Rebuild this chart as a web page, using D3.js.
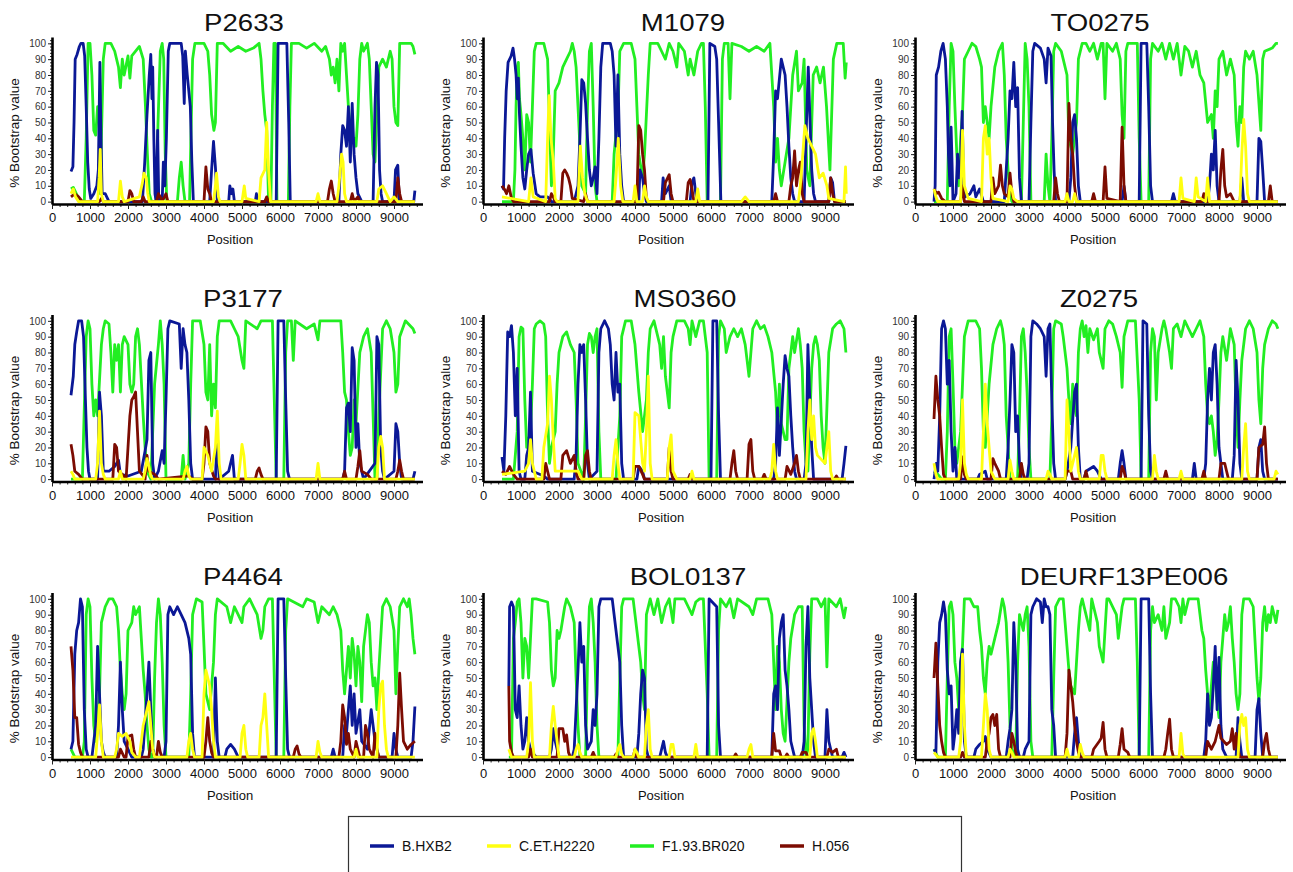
<!DOCTYPE html>
<html>
<head>
<meta charset="utf-8">
<script src="https://cdn.jsdelivr.net/npm/d3@7"></script>
<style>
  body { margin: 0; background: #fff; }
  svg text { font-family: "Liberation Sans", Arial, sans-serif; fill: #111; }
</style>
</head>
<body>
<div id="chart"></div>
<script>
// Bootscan values: [position, % bootstrap]
// B = B.HXB2, C = C.ET.H2220, F = F1.93.BR020, H = H.056

var P2633_B = [[500,19],[550,22],[580,50],[610,90],[660,93],[720,98],[760,100],[820,100],[860,92],[900,60],[940,25],[980,8],[1020,2],[1100,5],[1180,10],[1220,20],[1260,88],[1290,40],[1320,5],[1400,5],[1500,0],[2380,0],[2440,25],[2500,55],[2560,80],[2600,93],[2630,65],[2650,85],[2680,40],[2710,5],[2740,0],[2780,45],[2810,0],[2900,0],[2930,25],[2970,10],[3010,40],[3060,95],[3100,100],[3400,100],[3440,92],[3480,62],[3510,95],[3560,80],[3600,70],[3640,60],[3680,25],[3720,0],[4150,0],[4200,20],[4250,38],[4300,22],[4350,0],[4650,0],[4680,10],[4720,5],[4760,8],[4800,0],[5350,0],[5380,5],[5420,0],[5900,0],[5950,100],[6180,100],[6230,50],[6270,0],[7550,0],[7600,30],[7650,48],[7700,45],[7750,35],[7800,60],[7850,25],[7900,62],[7950,30],[8000,15],[8050,5],[8150,0],[8450,0],[8500,60],[8540,88],[8580,80],[8620,20],[8660,5],[8700,0],[9000,0],[9040,20],[9100,23],[9140,0],[9520,0],[9550,7]];
var P2633_C = [[500,5],[560,8],[620,3],[700,0],[1200,0],[1240,15],[1270,33],[1300,5],[1350,0],[1750,0],[1800,13],[1850,3],[1900,0],[2300,3],[2380,12],[2420,18],[2480,15],[2520,5],[2560,0],[4250,0],[4300,10],[4330,18],[4380,3],[4420,0],[5000,0],[5060,10],[5100,2],[5450,0],[5500,15],[5600,20],[5650,50],[5700,20],[5750,0],[6950,0],[7000,5],[7050,0],[7500,0],[7550,10],[7620,30],[7660,25],[7700,5],[7750,0],[8550,0],[8600,8],[8700,10],[8800,5],[8900,0],[9000,3],[9100,0],[9550,0]];
var P2633_F = [[500,8],[560,9],[620,6],[700,2],[780,0],[850,0],[900,40],[950,100],[1000,100],[1050,80],[1100,45],[1150,42],[1200,60],[1240,60],[1270,5],[1300,40],[1350,90],[1400,100],[1550,100],[1650,95],[1750,85],[1800,72],[1850,90],[1900,80],[2000,92],[2050,78],[2100,92],[2200,95],[2300,98],[2400,90],[2460,60],[2510,30],[2560,5],[2620,0],[2740,0],[2790,50],[2850,95],[2900,100],[2940,90],[2980,30],[3020,0],[3300,0],[3350,15],[3400,25],[3450,10],[3500,0],[3620,0],[3700,90],[3760,100],[4000,100],[4100,95],[4150,80],[4200,55],[4260,45],[4300,50],[4350,100],[4500,100],[4700,95],[4900,98],[5100,95],[5300,97],[5450,100],[5500,90],[5550,70],[5600,55],[5650,45],[5700,0],[5760,0],[5800,60],[5840,100],[5880,100],[5920,0],[6220,0],[6260,60],[6300,100],[6500,100],[6700,97],[6900,100],[7100,95],[7200,98],[7300,90],[7350,80],[7400,85],[7450,75],[7500,90],[7550,70],[7600,100],[7650,95],[7700,100],[7750,80],[7800,60],[7850,45],[7900,38],[7950,40],[8000,35],[8050,55],[8100,90],[8150,100],[8200,95],[8300,100],[8350,90],[8400,60],[8450,30],[8500,25],[8550,55],[8600,85],[8700,90],[8800,85],[8900,95],[8950,90],[9000,60],[9050,50],[9100,48],[9150,100],[9450,100],[9500,98],[9550,93]];
var P2633_H = [[500,3],[600,5],[700,3],[800,0],[1250,0],[1300,2],[1350,0],[2000,0],[2050,7],[2100,5],[2150,0],[2350,0],[2400,3],[2450,0],[2750,0],[2800,5],[2850,3],[2900,0],[3000,5],[3050,0],[4000,0],[4050,22],[4100,8],[4150,5],[4200,0],[5600,0],[5650,3],[5700,0],[7250,0],[7300,8],[7350,13],[7400,5],[7450,0],[7850,0],[7900,5],[7950,0],[8050,3],[8100,0],[9050,0],[9100,15],[9150,5],[9200,0],[9550,0]];

var M1079_B = [[500,10],[540,8],[570,40],[610,70],[660,88],[740,92],[790,97],[830,90],[870,80],[900,65],[930,78],[960,55],[1000,35],[1050,15],[1100,8],[1150,20],[1200,30],[1260,33],[1320,18],[1400,5],[1500,3],[1700,3],[1800,0],[2400,0],[2500,10],[2550,40],[2600,77],[2650,75],[2700,62],[2750,40],[2800,20],[2850,10],[2900,15],[2950,22],[3000,5],[3050,40],[3100,85],[3150,100],[3350,100],[3400,95],[3450,80],[3500,35],[3550,80],[3600,30],[3650,10],[3700,0],[4100,0],[4130,20],[4200,15],[4250,5],[4300,0],[4700,0],[4740,15],[4800,5],[4900,10],[4950,0],[5450,0],[5500,12],[5550,15],[5600,5],[5650,0],[5920,0],[5970,100],[6100,98],[6150,90],[6200,50],[6260,0],[7600,0],[7650,30],[7700,70],[7750,65],[7850,90],[7900,85],[7950,80],[8000,60],[8050,35],[8100,15],[8150,5],[8200,0],[8450,0],[8500,40],[8560,85],[8600,55],[8650,20],[8700,5],[8750,0],[9100,0],[9150,15],[9200,12],[9250,0],[9550,0]];
var M1079_C = [[500,3],[1200,0],[1260,15],[1320,3],[1650,0],[1700,40],[1740,67],[1790,40],[1850,25],[1900,2],[1950,0],[2500,0],[2560,35],[2620,15],[2680,5],[2750,0],[3450,0],[3500,15],[3560,40],[3620,10],[3680,0],[3950,0],[4000,10],[4050,0],[4200,0],[4250,10],[4300,3],[4350,0],[5600,0],[5650,8],[5700,0],[6800,0],[6900,3],[7000,0],[8300,0],[8350,10],[8400,25],[8470,48],[8550,40],[8650,35],[8750,30],[8850,15],[8950,18],[9050,10],[9100,2],[9500,0],[9540,22],[9560,5]];
var M1079_F = [[500,0],[800,0],[840,20],[870,60],[900,85],[930,88],[960,65],[1000,55],[1050,40],[1100,20],[1150,55],[1200,50],[1250,25],[1300,60],[1350,95],[1400,100],[1600,100],[1650,95],[1700,90],[1750,50],[1800,10],[1850,30],[1900,70],[2000,75],[2100,85],[2200,90],[2300,95],[2350,100],[2400,95],[2450,85],[2500,60],[2550,35],[2600,10],[2700,5],[2750,60],[2800,95],[2850,100],[2900,60],[2950,10],[3000,0],[3400,0],[3450,30],[3550,55],[3600,95],[3700,100],[3900,100],[4000,90],[4050,60],[4100,30],[4200,15],[4250,30],[4300,55],[4350,80],[4400,100],[4600,100],[4700,95],[4800,90],[4900,100],[5000,95],[5100,85],[5150,100],[5300,95],[5400,80],[5450,90],[5550,80],[5650,95],[5750,100],[5800,100],[5850,60],[5900,0],[6250,0],[6300,90],[6350,100],[6450,100],[6500,65],[6550,100],[6800,98],[7000,95],[7200,98],[7400,95],[7550,100],[7600,80],[7650,60],[7700,25],[7750,40],[7800,20],[7850,10],[7950,25],[8050,40],[8150,80],[8250,95],[8300,70],[8400,75],[8450,90],[8520,20],[8600,10],[8690,80],[8780,85],[8870,75],[8960,85],[9040,60],[9130,20],[9220,90],[9310,100],[9480,100],[9530,78],[9560,88]];
var M1079_H = [[500,10],[560,8],[620,5],[680,10],[740,3],[800,0],[1750,0],[1800,5],[1850,3],[1900,0],[2050,0],[2100,18],[2150,20],[2200,18],[2250,15],[2300,10],[2350,2],[2650,0],[2700,5],[2750,0],[4050,0],[4100,48],[4150,45],[4200,30],[4250,20],[4300,2],[4350,0],[4750,0],[4800,12],[4900,17],[4950,5],[5000,0],[5350,0],[5400,12],[5450,14],[5500,8],[5550,0],[7650,0],[7700,5],[7750,0],[8050,0],[8100,10],[8150,15],[8200,32],[8250,10],[8300,20],[8350,25],[8400,5],[8450,0],[9100,0],[9150,15],[9200,5],[9250,0],[9550,0]];

var TO0275_B = [[500,0],[530,10],[560,80],[620,85],[680,95],[740,100],[800,90],[850,60],[880,30],[920,10],[950,47],[980,20],[1000,0],[1080,5],[1120,30],[1160,15],[1200,20],[1240,57],[1280,10],[1320,3],[1450,5],[1550,10],[1600,3],[1700,8],[1800,0],[2350,0],[2400,20],[2450,40],[2500,70],[2550,65],[2600,88],[2650,60],[2700,72],[2750,15],[2800,0],[3000,0],[3050,50],[3100,95],[3150,100],[3300,97],[3400,90],[3450,75],[3500,97],[3580,92],[3620,50],[3660,20],[3700,0],[4050,0],[4100,15],[4150,50],[4200,55],[4250,40],[4300,10],[4350,0],[5450,0],[5500,10],[5550,0],[5900,0],[5950,100],[6100,100],[6150,60],[6200,10],[6250,0],[6750,0],[6800,5],[6850,0],[7700,0],[7750,10],[7800,30],[7850,20],[7900,45],[7950,10],[8000,0],[8550,0],[8600,15],[8650,0],[9000,0],[9050,40],[9100,38],[9150,20],[9200,0],[9550,0]];
var TO0275_C = [[500,8],[550,3],[600,0],[1200,0],[1250,45],[1300,10],[1400,2],[1750,0],[1800,40],[1850,48],[1900,30],[1950,40],[2000,15],[2050,2],[2450,0],[2500,10],[2550,8],[2600,2],[2700,0],[3950,0],[4000,5],[4050,0],[4150,0],[4200,5],[4250,0],[6950,0],[7000,15],[7050,2],[7350,0],[7400,15],[7450,3],[7650,0],[7700,15],[7750,0],[8550,0],[8600,30],[8650,52],[8700,35],[8750,5],[8800,0],[9550,0]];
var TO0275_F = [[500,0],[850,0],[900,60],[950,100],[1000,95],[1050,60],[1100,30],[1150,10],[1200,40],[1250,55],[1300,90],[1400,95],[1500,100],[1600,98],[1700,90],[1750,85],[1800,50],[1850,60],[1950,40],[2000,60],[2100,85],[2200,95],[2300,100],[2350,80],[2400,40],[2450,20],[2500,5],[2550,0],[2800,0],[2850,50],[2900,100],[2950,90],[3000,60],[3050,0],[3400,0],[3450,30],[3500,10],[3550,0],[3600,40],[3650,95],[3700,100],[3850,95],[3900,90],[4000,80],[4050,40],[4150,30],[4250,50],[4300,90],[4400,100],[4500,100],[4600,95],[4700,100],[4800,90],[4900,100],[4950,100],[5000,65],[5050,100],[5200,95],[5300,100],[5400,90],[5450,55],[5500,40],[5550,95],[5600,100],[5850,100],[5900,40],[5950,0],[6150,0],[6200,90],[6250,100],[6400,95],[6500,100],[6600,90],[6700,100],[6800,90],[6900,100],[7000,80],[7100,98],[7200,95],[7300,85],[7400,95],[7500,80],[7600,75],[7700,50],[7800,55],[7850,40],[7900,70],[7950,60],[8000,90],[8100,95],[8200,80],[8300,90],[8400,80],[8450,50],[8500,35],[8550,60],[8600,50],[8650,85],[8700,95],[8800,90],[8900,95],[9000,80],[9100,45],[9150,90],[9200,95],[9400,97],[9500,100],[9550,100]];
var TO0275_H = [[500,8],[560,5],[620,6],[700,2],[800,0],[1200,0],[1250,10],[1300,0],[2000,0],[2050,15],[2100,5],[2200,10],[2250,23],[2300,10],[2350,5],[2450,3],[2500,18],[2550,5],[2600,0],[3650,0],[3700,15],[3750,5],[3800,0],[4000,0],[4050,62],[4100,40],[4150,30],[4200,10],[4250,0],[4650,0],[4700,5],[4750,0],[4950,0],[5000,22],[5050,2],[5400,0],[5450,47],[5500,10],[5550,0],[7550,0],[7600,5],[7650,0],[8000,0],[8050,20],[8100,33],[8150,10],[8200,3],[8300,5],[8400,0],[9300,0],[9350,10],[9400,0],[9550,0]];

var P3177_B = [[500,53],[560,65],[600,85],[650,93],[700,100],[780,100],[830,90],[880,50],[920,20],[960,5],[1000,0],[1200,0],[1250,55],[1300,40],[1350,5],[1500,5],[1650,8],[1750,12],[1800,3],[2000,2],[2350,5],[2450,18],[2500,25],[2550,75],[2600,80],[2650,10],[2700,0],[2800,5],[2900,18],[2950,10],[3000,50],[3050,95],[3100,100],[3350,98],[3400,70],[3450,95],[3500,85],[3550,80],[3600,50],[3650,10],[3700,0],[4300,0],[4350,30],[4400,0],[4650,5],[4750,15],[4800,0],[5900,0],[5950,100],[6100,100],[6150,50],[6200,5],[6250,0],[7650,0],[7700,5],[7750,45],[7800,48],[7850,30],[7900,83],[7950,75],[8000,20],[8050,35],[8100,10],[8200,0],[8500,10],[8550,90],[8600,85],[8650,20],[8700,5],[8750,0],[9000,5],[9050,35],[9100,30],[9150,10],[9200,0],[9500,0],[9550,5]];
var P3177_C = [[500,5],[550,3],[600,0],[1150,0],[1200,10],[1250,43],[1300,10],[1350,3],[1400,0],[1750,0],[1800,5],[1850,0],[2400,0],[2450,5],[2500,13],[2550,8],[2600,2],[2650,0],[3450,0],[3500,5],[3550,8],[3600,2],[3650,0],[3950,0],[4000,20],[4100,15],[4200,5],[4300,20],[4350,43],[4400,10],[4450,0],[4900,0],[4950,10],[5000,22],[5050,15],[5100,0],[6950,0],[7000,10],[7050,0],[8550,0],[8600,20],[8650,27],[8700,20],[8750,0],[9550,0]];
var P3177_F = [[500,0],[800,0],[900,90],[950,100],[1000,95],[1050,60],[1100,40],[1150,50],[1200,40],[1300,85],[1350,95],[1400,100],[1500,98],[1550,80],[1600,55],[1650,85],[1700,75],[1750,85],[1800,55],[1850,85],[1900,90],[2000,85],[2050,60],[2100,55],[2150,60],[2200,90],[2250,95],[2300,85],[2400,40],[2450,20],[2500,5],[2600,0],[2700,60],[2800,85],[2850,100],[2900,85],[2950,60],[3000,0],[3400,0],[3450,15],[3500,0],[3600,10],[3650,60],[3700,100],[3900,100],[4000,85],[4050,55],[4100,50],[4150,85],[4200,40],[4250,60],[4300,45],[4350,90],[4400,100],[4700,100],[4800,95],[4900,90],[5000,75],[5050,70],[5100,100],[5400,95],[5500,100],[5800,100],[5850,50],[5900,0],[6100,0],[6150,80],[6200,100],[6300,100],[6350,75],[6400,100],[6700,95],[6900,98],[7000,88],[7050,100],[7600,100],[7650,80],[7700,55],[7750,50],[7800,30],[7850,15],[7900,20],[7950,50],[8000,35],[8100,80],[8200,90],[8300,95],[8400,80],[8450,40],[8500,0],[8550,0],[8600,40],[8700,95],[8800,100],[8900,95],[9000,80],[9050,55],[9100,60],[9150,90],[9300,100],[9500,95],[9550,92]];
var P3177_H = [[500,22],[550,15],[600,5],[700,3],[800,0],[1600,0],[1650,22],[1700,20],[1750,5],[1850,3],[1950,0],[2000,20],[2050,40],[2100,50],[2150,52],[2200,55],[2250,30],[2300,5],[2400,2],[2450,0],[2500,15],[2550,5],[2700,3],[2800,0],[3600,2],[3700,0],[3950,0],[4000,10],[4050,33],[4100,30],[4150,10],[4250,2],[4300,0],[5350,0],[5400,5],[5450,7],[5500,3],[5550,0],[7650,0],[7700,5],[7750,0],[8000,0],[8050,8],[8100,18],[8150,5],[8300,3],[8400,0],[9050,0],[9100,5],[9150,12],[9200,5],[9250,0],[9550,0]];

var MS0360_B = [[500,14],[550,5],[600,40],[650,93],[700,90],[750,97],[800,80],[850,40],[900,70],[950,5],[1000,0],[1100,0],[1150,15],[1200,20],[1250,55],[1300,5],[1600,2],[1700,0],[2400,0],[2450,15],[2500,60],[2550,85],[2600,80],[2650,85],[2700,50],[2750,10],[2800,0],[3000,5],[3050,80],[3100,95],[3200,100],[3300,95],[3350,85],[3400,60],[3450,50],[3500,80],[3550,55],[3600,60],[3650,10],[3700,0],[4050,0],[4100,8],[4200,5],[4250,0],[6000,0],[6050,100],[6150,100],[6200,40],[6250,0],[7650,0],[7700,10],[7750,45],[7800,15],[7900,60],[7950,78],[8000,70],[8050,65],[8100,40],[8150,20],[8200,5],[8250,0],[8450,0],[8500,10],[8550,85],[8600,50],[8650,20],[8700,0],[9450,0],[9500,10],[9550,21]];
var MS0360_C = [[500,3],[1100,5],[1200,10],[1250,25],[1300,10],[1400,0],[1550,0],[1600,20],[1700,35],[1750,65],[1800,50],[1850,25],[1900,5],[2000,5],[2500,5],[2600,0],[3400,0],[3450,15],[3500,25],[3550,10],[3600,0],[3950,0],[4000,42],[4100,40],[4200,10],[4250,5],[4300,30],[4350,65],[4400,10],[4450,0],[4850,0],[4900,20],[4950,28],[5000,5],[5100,0],[5450,0],[5500,5],[5550,0],[7550,0],[7600,5],[7650,22],[7700,5],[7750,0],[8500,0],[8550,30],[8600,50],[8650,25],[8700,40],[8750,20],[8800,15],[9000,10],[9100,30],[9150,5],[9200,0],[9550,0]];
var MS0360_F = [[500,0],[800,0],[900,30],[950,90],[1000,96],[1050,95],[1100,50],[1150,20],[1250,30],[1300,60],[1350,95],[1400,98],[1500,100],[1600,98],[1650,90],[1700,40],[1750,10],[1800,20],[1900,30],[1950,60],[2000,80],[2100,90],[2200,93],[2300,85],[2400,80],[2450,50],[2500,10],[2650,0],[2700,40],[2750,85],[2800,92],[2850,90],[2900,80],[2950,90],[3000,95],[3050,30],[3100,0],[3500,0],[3600,40],[3650,90],[3750,100],[3900,100],[4000,85],[4050,70],[4100,55],[4200,30],[4300,50],[4350,80],[4400,95],[4500,100],[4600,90],[4650,85],[4700,70],[4750,90],[4800,65],[4850,55],[4900,45],[4950,80],[5000,90],[5100,100],[5300,100],[5400,95],[5450,85],[5500,100],[5600,90],[5700,100],[5800,100],[5900,80],[5950,0],[6150,0],[6200,90],[6250,100],[6350,95],[6400,80],[6500,90],[6600,95],[6700,90],[6800,95],[6900,85],[7000,65],[7050,80],[7100,95],[7200,100],[7300,95],[7400,97],[7500,90],[7600,80],[7700,55],[7750,30],[7800,60],[7850,35],[7900,30],[7950,25],[8000,25],[8050,70],[8100,80],[8150,90],[8200,80],[8300,95],[8350,85],[8400,70],[8450,30],[8500,10],[8550,5],[8650,70],[8700,85],[8750,90],[8800,85],[8850,75],[8900,40],[8950,20],[9000,10],[9100,80],[9200,95],[9300,98],[9400,100],[9500,95],[9550,80]];
var MS0360_H = [[500,5],[600,3],[700,8],[800,3],[900,0],[1600,0],[1650,10],[1700,5],[1750,0],[2050,0],[2100,15],[2200,18],[2300,10],[2400,15],[2450,5],[2500,0],[2650,0],[2700,15],[2750,18],[2800,5],[2850,0],[3950,0],[4000,8],[4100,8],[4200,3],[4250,0],[4850,0],[4900,20],[4950,5],[5000,0],[5400,0],[5450,3],[5500,0],[6500,0],[6550,10],[6600,18],[6650,5],[6700,0],[6950,0],[7000,22],[7050,25],[7100,5],[7150,0],[7350,0],[7400,3],[7450,0],[7950,0],[8000,8],[8100,3],[8200,10],[8250,15],[8300,5],[8350,0],[9250,0],[9300,2],[9350,0],[9550,0]];

var Z0275_B = [[500,0],[560,10],[600,5],[650,40],[700,95],[750,100],[800,95],[850,60],[900,75],[950,30],[1000,5],[1050,20],[1100,0],[1650,0],[1700,3],[1850,5],[1900,0],[2400,0],[2450,20],[2500,50],[2550,85],[2600,80],[2650,30],[2700,40],[2750,10],[2800,0],[2950,0],[3000,10],[3050,90],[3100,100],[3200,98],[3300,95],[3400,90],[3450,65],[3500,95],[3550,98],[3600,50],[3650,10],[3700,0],[3950,0],[4000,5],[4100,20],[4200,55],[4250,60],[4300,20],[4350,0],[4450,0],[4500,5],[4700,8],[4800,5],[4900,0],[5350,0],[5400,10],[5450,18],[5500,10],[5550,0],[5950,0],[6000,100],[6100,98],[6150,40],[6200,5],[6250,0],[7300,0],[7350,10],[7400,0],[7600,0],[7650,10],[7700,50],[7750,70],[7800,50],[7850,80],[7900,85],[7950,60],[8000,20],[8050,10],[8100,0],[8350,0],[8400,15],[8450,75],[8500,50],[8550,10],[8600,0],[9000,0],[9050,20],[9100,25],[9150,5],[9200,0],[9550,0]];
var Z0275_C = [[500,10],[550,3],[600,0],[1150,0],[1200,10],[1250,50],[1300,10],[1350,3],[1400,0],[1750,0],[1800,30],[1850,60],[1900,35],[1950,20],[2000,5],[2100,0],[2450,0],[2500,12],[2550,5],[2600,0],[3450,0],[3500,5],[3550,3],[3600,0],[3950,0],[4000,50],[4050,30],[4100,5],[4200,15],[4250,20],[4300,5],[4350,0],[4850,0],[4900,15],[4950,15],[5000,5],[5050,0],[6250,0],[6300,15],[6350,5],[6400,0],[6950,0],[7000,5],[7050,0],[8600,0],[8650,20],[8700,35],[8750,5],[8800,0],[9450,0],[9500,5],[9550,3]];
var Z0275_F = [[500,5],[600,3],[700,0],[800,0],[850,30],[900,90],[950,95],[1000,60],[1050,20],[1100,10],[1200,30],[1250,60],[1300,90],[1400,100],[1600,100],[1700,95],[1750,70],[1800,30],[1850,20],[1950,60],[2050,85],[2150,95],[2250,100],[2300,95],[2350,85],[2400,40],[2450,20],[2500,0],[2700,0],[2750,40],[2800,90],[2850,95],[2900,80],[2950,55],[3000,20],[3050,0],[3550,0],[3600,40],[3650,95],[3700,100],[3850,98],[3900,90],[4000,70],[4050,50],[4100,35],[4150,60],[4200,45],[4250,40],[4300,80],[4350,95],[4400,100],[4450,90],[4500,97],[4550,80],[4600,95],[4700,88],[4800,95],[4850,80],[4900,75],[4950,70],[5000,95],[5100,100],[5200,98],[5300,90],[5400,80],[5450,58],[5500,90],[5600,100],[5800,100],[5900,50],[5950,0],[6150,0],[6200,80],[6250,95],[6300,90],[6350,50],[6400,80],[6500,95],[6550,100],[6600,95],[6700,80],[6750,70],[6800,95],[6900,98],[7000,90],[7050,95],[7100,100],[7200,95],[7300,90],[7400,95],[7500,100],[7600,90],[7650,60],[7700,40],[7750,35],[7800,40],[7850,30],[7900,15],[7950,25],[8000,50],[8050,80],[8100,90],[8200,75],[8300,95],[8400,85],[8450,45],[8500,20],[8550,50],[8600,75],[8700,95],[8800,100],[8900,95],[9000,80],[9050,50],[9100,35],[9150,70],[9200,85],[9300,95],[9400,100],[9500,98],[9550,95]];
var Z0275_H = [[500,38],[550,65],[600,50],[650,40],[700,20],[750,3],[800,0],[1200,0],[1250,14],[1300,3],[1350,0],[2000,0],[2050,13],[2100,10],[2200,5],[2250,0],[2750,0],[2800,10],[2850,3],[2900,0],[3950,0],[4000,5],[4100,5],[4150,0],[4450,0],[4500,5],[4550,0],[5400,0],[5450,8],[5500,5],[5550,0],[6550,0],[6600,5],[6650,0],[7550,0],[7600,5],[7650,0],[8000,0],[8050,10],[8150,10],[8200,5],[8250,0],[9000,0],[9050,20],[9150,22],[9200,33],[9250,10],[9300,0],[9550,0]];

var P4464_B = [[500,5],[550,10],[600,65],[650,80],[700,85],[750,100],[800,95],[850,30],[900,5],[950,0],[1050,0],[1100,10],[1150,20],[1200,70],[1250,40],[1300,10],[1350,3],[1400,0],[1700,0],[1750,20],[1800,60],[1850,30],[1900,10],[2000,5],[2100,0],[2350,0],[2400,5],[2500,40],[2550,60],[2600,30],[2650,5],[2700,0],[2950,0],[3000,10],[3050,90],[3100,95],[3200,90],[3300,95],[3400,90],[3500,85],[3600,75],[3650,65],[3700,15],[3750,0],[4250,0],[4300,50],[4350,10],[4400,0],[4550,0],[4600,5],[4700,8],[4800,5],[4900,0],[5900,0],[5950,100],[6100,100],[6150,50],[6200,5],[6250,0],[7350,0],[7400,5],[7450,0],[7650,0],[7700,20],[7750,15],[7850,45],[7900,20],[7950,40],[8000,15],[8100,30],[8150,10],[8300,5],[8400,30],[8450,20],[8500,10],[8600,0],[8950,0],[9000,15],[9050,5],[9100,0],[9450,0],[9500,10],[9550,32]];
var P4464_C = [[500,0],[1150,0],[1200,15],[1250,33],[1300,10],[1350,0],[1650,0],[1700,5],[1750,15],[1850,13],[1950,15],[2050,10],[2100,3],[2200,0],[2300,0],[2350,10],[2400,20],[2450,25],[2550,35],[2600,20],[2650,5],[2700,0],[3550,0],[3600,10],[3650,15],[3700,5],[3750,0],[3950,0],[4000,40],[4050,55],[4100,50],[4150,45],[4200,30],[4250,10],[4300,0],[4950,0],[5000,15],[5050,20],[5100,5],[5150,0],[5450,0],[5500,20],[5550,25],[5600,40],[5650,20],[5700,0],[6950,0],[7000,10],[7050,3],[7100,0],[7950,0],[8000,5],[8050,0],[8550,0],[8600,30],[8650,45],[8700,48],[8750,20],[8800,5],[8850,0],[9550,0]];
var P4464_F = [[500,5],[600,0],[800,0],[850,10],[900,90],[950,100],[1000,95],[1050,50],[1100,20],[1150,10],[1250,40],[1300,85],[1400,95],[1500,100],[1600,100],[1700,95],[1750,80],[1800,55],[1850,40],[1900,30],[1950,40],[2000,80],[2100,85],[2150,95],[2200,90],[2300,95],[2350,75],[2400,55],[2450,40],[2500,20],[2550,5],[2600,0],[2650,0],[2700,50],[2750,85],[2800,100],[2850,90],[2900,60],[2950,20],[3000,0],[3600,0],[3650,40],[3700,90],[3800,100],[3950,98],[4000,70],[4050,40],[4150,30],[4250,60],[4300,90],[4350,100],[4600,95],[4700,85],[4800,95],[4900,90],[5000,85],[5050,95],[5200,100],[5400,90],[5500,75],[5550,80],[5600,95],[5700,100],[5800,100],[5850,50],[5900,0],[6100,0],[6150,80],[6200,100],[6600,95],[6700,100],[6900,98],[7000,85],[7100,95],[7300,90],[7400,95],[7500,90],[7600,80],[7650,55],[7700,40],[7750,55],[7800,70],[7850,50],[7900,75],[7950,65],[8000,45],[8050,70],[8100,60],[8150,35],[8200,70],[8300,90],[8350,85],[8400,60],[8450,45],[8500,50],[8550,30],[8600,55],[8700,95],[8800,100],[8900,95],[9000,80],[9050,40],[9100,70],[9150,95],[9250,100],[9350,95],[9400,100],[9450,90],[9500,75],[9550,65]];
var P4464_H = [[500,70],[550,55],[600,25],[650,25],[700,8],[750,3],[800,0],[1750,0],[1800,5],[1900,0],[1950,0],[2000,13],[2100,14],[2150,5],[2200,0],[2550,0],[2600,10],[2650,5],[2700,0],[2750,0],[2800,10],[2850,3],[2900,0],[4000,0],[4050,10],[4100,25],[4150,10],[4200,3],[4250,0],[6350,0],[6400,5],[6450,7],[6500,2],[6550,0],[7550,0],[7600,10],[7650,33],[7700,25],[7750,8],[7800,15],[7850,5],[7950,0],[8000,10],[8050,5],[8100,0],[8200,0],[8250,20],[8300,15],[8350,5],[8450,0],[8500,15],[8550,5],[8600,0],[9050,0],[9100,20],[9150,53],[9200,30],[9250,10],[9350,5],[9450,8],[9550,10]];

var BOL0137_B = [[680,45],[700,95],[750,98],[800,95],[850,30],[900,25],[950,45],[1000,20],[1050,5],[1100,10],[1150,25],[1200,10],[1250,5],[1300,3],[1400,0],[1750,0],[1800,5],[1850,18],[1900,10],[2000,0],[2350,0],[2400,5],[2450,30],[2500,55],[2550,85],[2600,60],[2650,70],[2700,20],[2750,5],[2850,10],[2900,30],[2950,20],[3000,40],[3050,95],[3100,100],[3400,100],[3450,90],[3500,80],[3550,70],[3600,60],[3650,20],[3700,0],[4050,0],[4100,15],[4150,40],[4200,55],[4250,50],[4300,5],[4350,0],[4650,0],[4700,5],[4750,10],[4800,3],[4850,0],[5900,0],[5950,100],[6150,95],[6200,20],[6250,0],[7600,0],[7650,40],[7700,45],[7750,30],[7800,75],[7850,85],[7900,90],[7950,55],[8000,45],[8050,30],[8100,10],[8200,0],[8400,0],[8450,10],[8500,70],[8550,95],[8600,50],[8650,30],[8700,10],[8750,0],[9000,0],[9050,30],[9100,10],[9150,5],[9200,0],[9450,0],[9500,3],[9550,0]];
var BOL0137_C = [[680,5],[750,0],[1150,0],[1200,10],[1250,47],[1300,10],[1350,0],[1750,0],[1800,20],[1850,32],[1900,20],[1950,10],[2000,0],[2400,0],[2450,5],[2500,8],[2550,3],[2600,0],[3500,0],[3550,5],[3600,8],[3650,2],[3700,0],[3950,0],[4000,5],[4050,3],[4100,0],[4250,0],[4300,20],[4350,30],[4400,5],[4450,0],[4900,0],[4950,8],[5000,8],[5050,0],[5550,0],[5600,8],[5650,0],[6950,0],[7000,5],[7050,8],[7100,0],[8600,0],[8650,15],[8700,18],[8750,10],[8800,0],[9550,0]];
var BOL0137_F = [[680,0],[750,0],[800,75],[850,85],[900,98],[950,100],[1000,85],[1050,50],[1100,75],[1150,70],[1200,50],[1250,75],[1300,100],[1400,100],[1700,98],[1750,85],[1800,55],[1850,45],[1900,50],[1950,80],[2000,75],[2050,80],[2150,95],[2200,100],[2300,95],[2350,90],[2400,85],[2450,50],[2500,20],[2550,0],[2700,0],[2750,60],[2800,95],[2850,100],[2900,85],[2950,60],[3000,20],[3050,0],[3550,0],[3600,50],[3650,95],[3700,100],[3950,100],[4000,90],[4050,80],[4150,60],[4200,40],[4250,30],[4300,90],[4400,100],[4450,95],[4500,90],[4600,100],[4700,85],[4800,95],[4900,100],[5000,85],[5050,100],[5300,100],[5400,95],[5500,90],[5600,98],[5700,100],[5800,100],[5900,40],[5950,0],[6150,0],[6200,80],[6250,100],[6400,95],[6500,100],[6600,88],[6700,100],[7000,95],[7100,90],[7200,100],[7500,100],[7600,90],[7650,60],[7700,30],[7750,70],[7800,60],[7850,30],[7900,15],[7950,10],[8000,35],[8050,60],[8100,75],[8200,90],[8300,95],[8400,95],[8450,20],[8500,0],[8550,5],[8600,65],[8650,100],[8800,100],[8900,95],[9000,100],[9050,57],[9100,100],[9300,95],[9400,100],[9500,88],[9550,95]];
var BOL0137_H = [[680,45],[700,10],[750,3],[800,0],[1200,0],[1250,5],[1300,0],[1950,0],[2000,18],[2100,18],[2150,10],[2200,14],[2250,3],[2300,0],[2850,0],[2900,3],[2950,0],[3450,0],[3500,2],[3550,0],[3950,0],[4000,5],[4050,0],[6600,0],[6650,2],[6700,0],[7600,0],[7650,15],[7700,4],[7800,4],[7850,0],[7950,0],[8000,2],[8050,0],[8350,0],[8400,3],[8500,3],[8550,0],[9050,0],[9100,5],[9200,3],[9300,5],[9350,0],[9550,0]];

var DEURF13PE006_B = [[500,5],[550,3],[600,60],[650,85],[700,90],[750,98],[800,90],[850,55],[900,40],[950,45],[1000,5],[1050,15],[1100,30],[1150,15],[1200,60],[1250,68],[1300,10],[1350,0],[1550,0],[1600,5],[1700,8],[1800,10],[1850,13],[1900,5],[2000,0],[2400,0],[2450,10],[2500,18],[2550,30],[2600,85],[2650,60],[2700,5],[2750,0],[2850,0],[2900,5],[3000,10],[3050,90],[3100,95],[3200,100],[3300,98],[3350,85],[3400,100],[3450,95],[3500,95],[3550,90],[3600,30],[3650,20],[3700,0],[4150,0],[4200,15],[4250,25],[4300,10],[4350,0],[5900,0],[5950,100],[6150,100],[6200,40],[6250,0],[7600,0],[7650,10],[7700,40],[7750,20],[7800,25],[7850,45],[7900,70],[7950,30],[8000,63],[8050,20],[8100,5],[8200,0],[8450,0],[8500,25],[8550,10],[8600,0],[8950,0],[9000,30],[9050,37],[9100,15],[9150,0],[9550,0]];
var DEURF13PE006_C = [[500,3],[600,0],[1150,0],[1200,10],[1250,65],[1300,20],[1350,0],[1750,0],[1800,20],[1850,40],[1900,30],[1950,5],[2000,0],[2450,0],[2500,5],[2550,3],[2600,0],[3950,0],[4000,5],[4050,0],[4300,0],[4350,8],[4400,3],[4450,0],[6950,0],[7000,15],[7050,2],[7100,0],[8500,0],[8550,20],[8600,27],[8650,20],[8700,25],[8750,5],[8800,0],[9550,0]];
var DEURF13PE006_F = [[500,5],[600,0],[800,0],[850,50],[900,95],[950,98],[1000,90],[1050,60],[1100,50],[1150,30],[1200,60],[1250,70],[1300,100],[1450,100],[1550,95],[1650,95],[1700,80],[1750,70],[1800,50],[1850,40],[1900,60],[1950,70],[2000,65],[2100,75],[2200,85],[2300,100],[2350,95],[2400,85],[2450,60],[2500,20],[2550,5],[2650,0],[2700,60],[2750,90],[2800,85],[2850,80],[2900,90],[2950,95],[3000,70],[3050,10],[3100,0],[3600,0],[3650,50],[3700,95],[3800,100],[3900,100],[3950,85],[4000,70],[4050,55],[4100,45],[4200,40],[4250,60],[4300,80],[4350,95],[4400,100],[4500,90],[4600,80],[4650,100],[4700,95],[4800,85],[4850,70],[4900,65],[4950,60],[5000,80],[5050,100],[5100,100],[5300,90],[5350,75],[5400,85],[5450,95],[5500,100],[5800,100],[5850,60],[5900,0],[6150,0],[6200,80],[6250,95],[6300,85],[6400,90],[6500,80],[6550,95],[6600,75],[6650,80],[6700,85],[6750,100],[6850,100],[6950,95],[7000,85],[7050,100],[7100,90],[7200,100],[7450,100],[7500,90],[7550,80],[7600,75],[7650,55],[7700,40],[7750,30],[7800,45],[7850,60],[7900,50],[7950,35],[8000,25],[8050,60],[8100,75],[8150,90],[8200,80],[8250,85],[8300,95],[8350,75],[8400,60],[8450,40],[8500,30],[8550,40],[8600,90],[8650,100],[8800,100],[8900,95],[9000,50],[9050,35],[9100,50],[9150,85],[9200,95],[9250,80],[9300,90],[9350,85],[9400,95],[9500,85],[9550,93]];
var DEURF13PE006_H = [[500,50],[550,72],[600,45],[650,20],[700,10],[750,3],[800,0],[1200,0],[1250,3],[1300,0],[1850,0],[1900,10],[1950,15],[2000,25],[2050,27],[2100,20],[2150,27],[2200,5],[2250,0],[2500,0],[2550,15],[2600,10],[2650,3],[2700,0],[3950,0],[4000,15],[4050,55],[4100,45],[4150,35],[4200,20],[4250,10],[4300,3],[4350,0],[4650,0],[4700,5],[4850,10],[4900,12],[4950,22],[5000,5],[5050,0],[5350,0],[5400,8],[5450,18],[5500,5],[5600,3],[5650,0],[6550,0],[6600,5],[6650,15],[6700,24],[6750,5],[6800,0],[7650,0],[7700,10],[7800,5],[7900,10],[8000,20],[8050,12],[8200,8],[8300,10],[8350,18],[8400,5],[8450,15],[8500,5],[8550,0],[9150,0],[9200,10],[9250,15],[9300,5],[9350,0],[9550,0]];

var seriesNames = ["B.HXB2", "C.ET.H2220", "F1.93.BR020", "H.056"];
var seriesColors = ["#0b1896", "#ffff10", "#22ee22", "#7c0c02"];
var xTicks = d3.range(0, 10000, 1000);
var yTicks = d3.range(0, 101, 10);

var panels = [
  { name: "P2633", series: [P2633_B, P2633_C, P2633_F, P2633_H], titleX: 244 },
  { name: "M1079", series: [M1079_B, M1079_C, M1079_F, M1079_H], titleX: 683 },
  { name: "TO0275", series: [TO0275_B, TO0275_C, TO0275_F, TO0275_H], titleX: 1100 },
  { name: "P3177", series: [P3177_B, P3177_C, P3177_F, P3177_H], titleX: 243 },
  { name: "MS0360", series: [MS0360_B, MS0360_C, MS0360_F, MS0360_H], titleX: 685 },
  { name: "Z0275", series: [Z0275_B, Z0275_C, Z0275_F, Z0275_H], titleX: 1099 },
  { name: "P4464", series: [P4464_B, P4464_C, P4464_F, P4464_H], titleX: 243 },
  { name: "BOL0137", series: [BOL0137_B, BOL0137_C, BOL0137_F, BOL0137_H], titleX: 688 },
  { name: "DEURF13PE006", series: [DEURF13PE006_B, DEURF13PE006_C, DEURF13PE006_F, DEURF13PE006_H], titleX: 1124 }
];

// layout
var svgWidth = 1293;
var svgHeight = 872;
var colX = [52, 483, 915];          // y axis x position per column
var rowBottom = [204, 481.5, 759.5]; // x axis y position per row
var titleBase = [31, 307, 585];
var plotW = 370.5, plotH = 167;
var drawOrder = [2, 0, 3, 1]; // green, blue, brown, yellow on top

var svg = d3.select("#chart")
  .append("svg")
  .attr("width", svgWidth)
  .attr("height", svgHeight);

panels.forEach(function (p, i) {
  var col = i % 3, row = Math.floor(i / 3);
  var ax = colX[col], yb = rowBottom[row];

  var x = d3.scaleLinear().domain([0, 9750]).range([ax, ax + plotW]);
  var y = d3.scaleLinear().domain([-1.5, 104]).range([yb, yb - plotH]);

  var g = svg.append("g");

  // lines
  var line = d3.line()
    .x(function (d) { return x(d[0]); })
    .y(function (d) { return y(d[1]); });

  drawOrder.forEach(function (s) {
    g.append("path")
      .datum(p.series[s])
      .attr("d", line)
      .attr("fill", "none")
      .attr("stroke", seriesColors[s])
      .attr("stroke-width", 2.8)
      .attr("stroke-linejoin", "round");
  });

  // minor ticks
  var minorX = g.append("g")
    .attr("transform", "translate(0," + yb + ")")
    .call(d3.axisBottom(x)
      .tickValues(d3.range(200, 9750, 200).filter(function (v) { return v % 1000 !== 0; }))
      .tickSize(3).tickFormat(""));
  minorX.select(".domain").remove();

  var minorY = g.append("g")
    .attr("transform", "translate(" + ax + ",0)")
    .call(d3.axisLeft(y).tickValues(d3.range(2, 104, 2)).tickSize(2).tickFormat(""));
  minorY.select(".domain").remove();

  // major axes
  var xAxis = g.append("g")
    .attr("transform", "translate(0," + yb + ")")
    .call(d3.axisBottom(x).tickValues(xTicks).tickSize(5).tickPadding(4)
      .tickSizeOuter(0).tickFormat(d3.format("d")));
  xAxis.selectAll("text").style("font-size", "13px");

  var yAxis = g.append("g")
    .attr("transform", "translate(" + ax + ",0)")
    .call(d3.axisLeft(y).tickValues(yTicks).tickSize(4).tickPadding(2).tickSizeOuter(0));
  yAxis.selectAll("text").style("font-size", "10px").style("fill", "#333");

  g.selectAll(".domain").attr("stroke", "#000").attr("stroke-width", 2.6);
  g.selectAll(".tick line").attr("stroke", "#222");

  // titles and labels
  g.append("text")
    .attr("transform", "translate(" + p.titleX + "," + titleBase[row] + ") scale(1.15,1)")
    .attr("text-anchor", "middle")
    .style("font-size", "24px")
    .text(p.name);

  g.append("text")
    .attr("transform", "translate(" + (ax - 33) + "," + (yb - 71) + ") rotate(-90)")
    .attr("text-anchor", "middle")
    .style("font-size", "13.5px")
    .text("% Bootstrap value");

  g.append("text")
    .attr("x", ax + 178)
    .attr("y", yb + 40)
    .attr("text-anchor", "middle")
    .style("font-size", "13px")
    .text("Position");
});

// legend
var legend = svg.append("g");
legend.append("rect")
  .attr("x", 348.5).attr("y", 816.5)
  .attr("width", 613).attr("height", 70)
  .attr("fill", "#fff")
  .attr("stroke", "#333")
  .attr("stroke-width", 1.2);

var legendX = [370, 487, 630, 780];
seriesNames.forEach(function (name, s) {
  legend.append("line")
    .attr("x1", legendX[s]).attr("x2", legendX[s] + 24)
    .attr("y1", 846).attr("y2", 846)
    .attr("stroke", seriesColors[s])
    .attr("stroke-width", 3.5);
  legend.append("text")
    .attr("x", legendX[s] + 32)
    .attr("y", 851)
    .style("font-size", "14px")
    .text(name);
});
</script>
</body>
</html>
